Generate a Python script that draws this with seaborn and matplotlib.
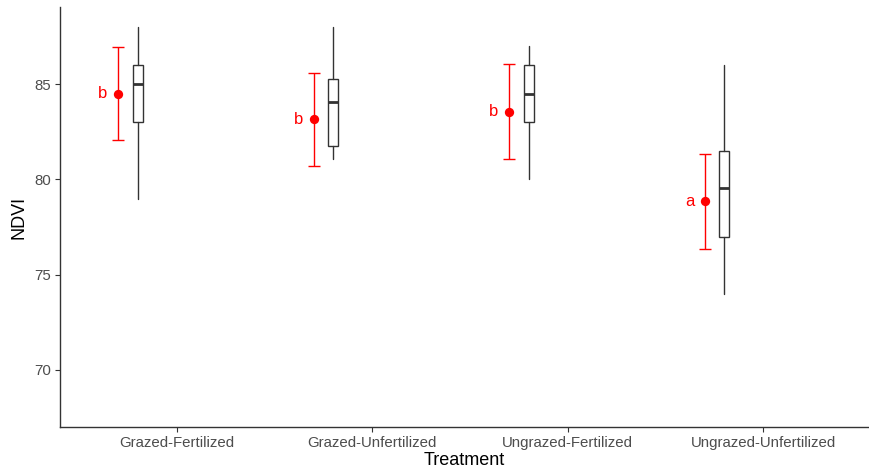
import numpy as np
import pandas as pd
import matplotlib
matplotlib.use("Agg")
import matplotlib.pyplot as plt
import seaborn as sns

# Treatment groups
treatments = ["Grazed-Fertilized", "Grazed-Unfertilized",
              "Ungrazed-Fertilized", "Ungrazed-Unfertilized"]

# Box summaries of NDVI per treatment
whisker_low = [79.0, 81.05, 80.0, 74.0]
q1 = [83.0, 81.75, 83.0, 77.0]
median = [85.0, 84.05, 84.5, 79.55]
q3 = [86.0, 85.25, 86.0, 81.5]
whisker_high = [88.0, 88.0, 87.0, 86.0]

# Group means with their intervals and compact-letter groups
means = [84.5, 83.15, 83.55, 78.85]
half_ci = [2.45, 2.46, 2.5, 2.48]
letters = ["b", "b", "b", "a"]

sns.set_theme(style="ticks")
plt.rcParams["font.family"] = ["Liberation Sans", "DejaVu Sans"]

fig = plt.figure(figsize=(8.69, 4.69), dpi=100)
ax = fig.add_axes([60 / 869, 41.7 / 469, 808 / 869, 420 / 469])

pos = np.arange(len(treatments))
box_pos = pos - 0.2
pt_pos = pos - 0.3

stats = []
for i, t in enumerate(treatments):
    stats.append(dict(label=t, whislo=whisker_low[i], q1=q1[i], med=median[i],
                      q3=q3[i], whishi=whisker_high[i], fliers=[]))

edge = "#333333"
ax.bxp(stats, positions=box_pos, widths=0.05, patch_artist=True,
       showcaps=False, showfliers=False,
       boxprops=dict(facecolor="white", edgecolor=edge, linewidth=1.0),
       whiskerprops=dict(color=edge, linewidth=1.0),
       medianprops=dict(color=edge, linewidth=2.0),
       manage_ticks=False, zorder=2)

ax.errorbar(pt_pos, means, yerr=half_ci, fmt="none", ecolor="red",
            elinewidth=1.0, capsize=4.5, capthick=1.0, zorder=3)

df = pd.DataFrame({"x": pt_pos, "NDVI": means})
sns.scatterplot(data=df, x="x", y="NDVI", color="red", s=45,
                edgecolor="red", linewidth=0, ax=ax, zorder=4)

for x, m, lab in zip(pt_pos, means, letters):
    ax.text(x - 0.078, m, lab, color="red", fontsize=12,
            ha="center", va="center", zorder=5)

ax.set_xlim(-0.597, 3.535)
ax.set_ylim(66.99, 89.04)
ax.set_xticks(pos)
ax.set_xticklabels(treatments)
ax.set_yticks([70, 75, 80, 85])

ax.tick_params(axis="both", colors="#333333", labelcolor="#4D4D4D",
               labelsize=10.8, length=3.5, width=0.8, pad=3)

for side in ["top", "right"]:
    ax.spines[side].set_visible(False)
for side in ["left", "bottom"]:
    ax.spines[side].set_color("#333333")
    ax.spines[side].set_linewidth(1.0)

ax.set_xlabel("Treatment", fontsize=13, color="black", labelpad=1)
ax.set_ylabel("NDVI", fontsize=13, color="black", labelpad=5)
ax.grid(False)
ax.set_facecolor("white")

fig.savefig("out.png", dpi=100, facecolor="white")
